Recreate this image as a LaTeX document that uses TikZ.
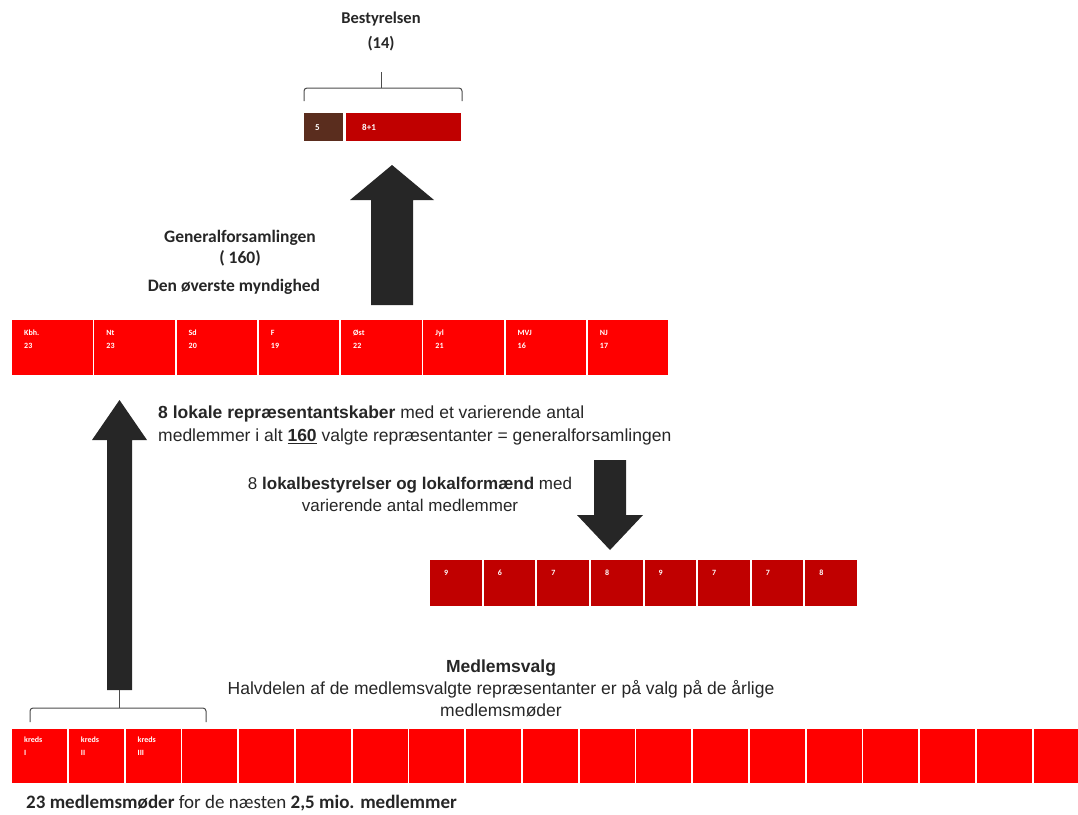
\documentclass[tikz,border=0pt]{standalone}
\usepackage{fontspec}
\setmainfont{Liberation Sans}
\newfontfamily\calfont{Carlito}
\definecolor{brightred}{HTML}{FF0000}
\definecolor{darkred}{HTML}{C00000}
\definecolor{brownbox}{HTML}{5A2D1E}
\definecolor{arrowgray}{HTML}{262626}
\definecolor{txtgray}{HTML}{262626}
\begin{document}
\begin{tikzpicture}[x=1pt,y=-1pt,
  cellbox/.style={draw=none,inner sep=0pt,anchor=north west},
  redcell/.style={cellbox,fill=brightred},
  darkcell/.style={cellbox,fill=darkred},
  celltxt/.style={anchor=north west,inner sep=0pt,text=white,align=left,font=\calfont\bfseries\fontsize{8}{13}\selectfont},
  bigarrow/.style={fill=arrowgray,draw=none},
  bracket/.style={draw=black!70,line width=1pt,rounded corners=3pt},
  bodytxt/.style={inner sep=0pt,text=txtgray,font=\fontsize{17.5}{23}\selectfont},
  caltxt/.style={inner sep=0pt,text=txtgray,font=\calfont\bfseries\fontsize{17.5}{21}\selectfont}
]
\useasboundingbox (0,0) rectangle (1078,814);

% ---- Bestyrelsen ----
\node[caltxt,align=center,font=\calfont\bfseries\fontsize{16.5}{25}\selectfont] (best) at (381,31) {Bestyrelsen\\(14)};
\draw[bracket] (304,101) |- (462,88) -- (462,101);
\coordinate (bestbr) at (381,88);
\draw[draw=black!70,line width=1pt] (bestbr) -- (381,72);
\node[cellbox,fill=brownbox,minimum width=39pt,minimum height=28pt] (b5) at (304,113) {};
\node[darkcell,minimum width=115pt,minimum height=28pt] (b9) at (346,113) {};
\node[celltxt,anchor=west,font=\calfont\bfseries\fontsize{9}{11}\selectfont] at ([xshift=11pt]b5.west) {5};
\node[celltxt,anchor=west,font=\calfont\bfseries\fontsize{9}{11}\selectfont] at ([xshift=16pt]b9.west) {8+1};

% ---- big arrow up to board ----
\fill[bigarrow] (371,305) -- (371,200) -- (350,200) -- (392,165) -- (434,200) -- (413,200) -- (413,305) -- cycle;

% ---- Generalforsamlingen ----
\node[caltxt,align=center] (gf) at (240,248) {Generalforsamlingen\\( 160)};
\node[caltxt] (dom) at (234,287) {Den øverste myndighed};

% ---- red row ----
\foreach \i/\a/\b in {0/Kbh./23,1/Nt/23,2/Sd/20,3/F/19,4/Øst/22,5/Jyl/21,6/MVJ/16,7/NJ/17}{
  \node[redcell,minimum width=80.5pt,minimum height=55pt] (g\i) at ({12+\i*82.25},320) {};
  \node[celltxt] at ([xshift=12pt,yshift=-10pt]g\i.north west) {\a\\\b};
}

% ---- text lokale repr ----
\node[bodytxt,anchor=north west,align=left] (lok) at (158,406) {\textbf{8 lokale repræsentantskaber} med et varierende antal\\medlemmer i alt \underline{\textbf{160}} valgte repræsentanter = generalforsamlingen};

% ---- left big arrow ----
\fill[bigarrow] (107,690) -- (107,440) -- (92,440) -- (119.5,400) -- (147,440) -- (132,440) -- (132,690) -- cycle;

% ---- lokalbestyrelser text ----
\node[bodytxt,align=center,font=\fontsize{17}{22}\selectfont] (lb) at (410,494) {8 \textbf{lokalbestyrelser og lokalformænd} med\\varierende antal medlemmer};

% ---- down arrow ----
\fill[bigarrow] (594,460) -- (626,460) -- (626,515) -- (643,515) -- (610,550) -- (577,515) -- (594,515) -- cycle;

% ---- dark row ----
\foreach \i/\a in {0/9,1/6,2/7,3/8,4/9,5/7,6/7,7/8}{
  \node[darkcell,minimum width=51.5pt,minimum height=46pt] (l\i) at ({430+\i*53.6},560) {};
  \node[celltxt] at ([xshift=14pt,yshift=-10pt]l\i.north west) {\a};
}

% ---- Medlemsvalg ----
\node[bodytxt,align=center,font=\fontsize{17.5}{22}\selectfont] (mv) at (501,688) {\textbf{Medlemsvalg}\\Halvdelen af de medlemsvalgte repræsentanter er på valg på de årlige\\medlemsmøder};

% ---- bottom bracket ----
\draw[bracket] (30,722) |- (206,708) -- (206,722);
\coordinate (botbr) at (119.5,708);
\draw[draw=black!70,line width=1pt] (botbr) -- (119.5,690);

% ---- bottom row ----
\foreach \i in {0,...,17}{
  \node[redcell,minimum width=55pt,minimum height=54pt] (k\i) at ({12+\i*56.75},729) {};
}
\node[redcell,minimum width=44.5pt,minimum height=54pt] (k18) at ({12+18*56.75},729) {};
\node[celltxt] at ([xshift=12pt,yshift=-8pt]k0.north west) {kreds\\I};
\node[celltxt] at ([xshift=12pt,yshift=-8pt]k1.north west) {kreds\\II};
\node[celltxt] at ([xshift=12pt,yshift=-8pt]k2.north west) {kreds\\III};

% ---- bottom text ----
\node[inner sep=0pt,anchor=west,text=txtgray,font=\calfont\fontsize{19}{22}\selectfont] (bt) at (26,803) {\textbf{23 medlemsmøder} for de næsten \textbf{2,5 mio. medlemmer}};
\end{tikzpicture}
\end{document}
